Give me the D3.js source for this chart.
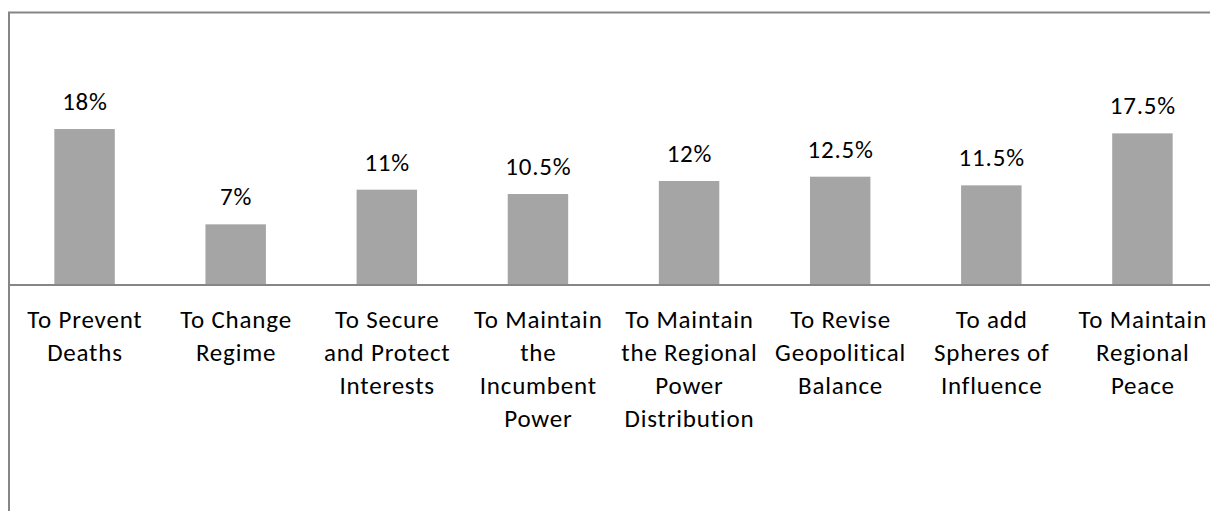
<!DOCTYPE html>
<html>
<head>
<meta charset="utf-8">
<script src="https://cdn.jsdelivr.net/npm/d3@7"></script>
<style>
  html, body { margin: 0; padding: 0; background: #fff; }
  svg { display: block; font-family: Carlito, Lato, "Open Sans", sans-serif; }
</style>
</head>
<body>
<div id="chart"></div>
<script>
const categories = [
  "To Prevent\nDeaths",
  "To Change\nRegime",
  "To Secure\nand Protect\nInterests",
  "To Maintain\nthe\nIncumbent\nPower",
  "To Maintain\nthe Regional\nPower\nDistribution",
  "To Revise\nGeopolitical\nBalance",
  "To add\nSpheres of\nInfluence",
  "To Maintain\nRegional\nPeace"
];
const values = [18, 7, 11, 10.5, 12, 12.5, 11.5, 17.5];
const valueLabels = ["18%", "7%", "11%", "10.5%", "12%", "12.5%", "11.5%", "17.5%"];

const width = 1210, height = 511;
const axisY = 285;
const fontSize = 25, spacing = 0.8;

const svg = d3.select("#chart").append("svg")
    .attr("width", width)
    .attr("height", height);

const x = d3.scaleBand()
    .domain(categories)
    .range([9, 1218])
    .padding(0);

const y = d3.scaleLinear()
    .domain([0, 20])
    .range([axisY, axisY - 173.3]);

const barW = x.bandwidth() * 0.4;

// chart frame (only top and left edges fall inside the window)
svg.append("path")
    .attr("d", `M9,${height} V12.5 H${width}`)
    .attr("fill", "none")
    .attr("stroke", "#868686")
    .attr("stroke-width", 2);

// bars
svg.selectAll("rect.bar")
    .data(values)
    .enter().append("rect")
    .attr("class", "bar")
    .attr("x", (d, i) => x(categories[i]) + (x.bandwidth() - barW) / 2)
    .attr("y", d => y(d))
    .attr("width", barW)
    .attr("height", d => y(0) - y(d))
    .attr("fill", "#a5a5a5");

// category axis
const axis = svg.append("g")
    .attr("transform", `translate(0,${axisY})`)
    .call(d3.axisBottom(x).tickSize(0).tickFormat(""));
axis.select(".domain")
    .attr("d", `M9,0H${width}`)
    .attr("stroke", "#868686")
    .attr("stroke-width", 2);

// value labels
svg.selectAll("text.val")
    .data(values)
    .enter().append("text")
    .attr("class", "val")
    .attr("x", (d, i) => x(categories[i]) + x.bandwidth() / 2 + spacing / 2)
    .attr("y", d => y(d) - 19)
    .attr("text-anchor", "middle")
    .attr("font-size", fontSize)
    .attr("letter-spacing", spacing)
    .attr("fill", "#000")
    .text((d, i) => valueLabels[i]);

// category labels
const labels = svg.selectAll("text.cat")
    .data(categories)
    .enter().append("text")
    .attr("class", "cat")
    .attr("y", 328)
    .attr("text-anchor", "middle")
    .attr("font-size", fontSize)
    .attr("letter-spacing", spacing)
    .attr("fill", "#000");

labels.selectAll("tspan")
    .data(d => d.split("\n").map(line => ({ line, cx: x(d) + x.bandwidth() / 2 + spacing / 2 })))
    .enter().append("tspan")
    .attr("x", d => d.cx)
    .attr("dy", (d, i) => i === 0 ? 0 : 33)
    .text(d => d.line);
</script>
</body>
</html>
